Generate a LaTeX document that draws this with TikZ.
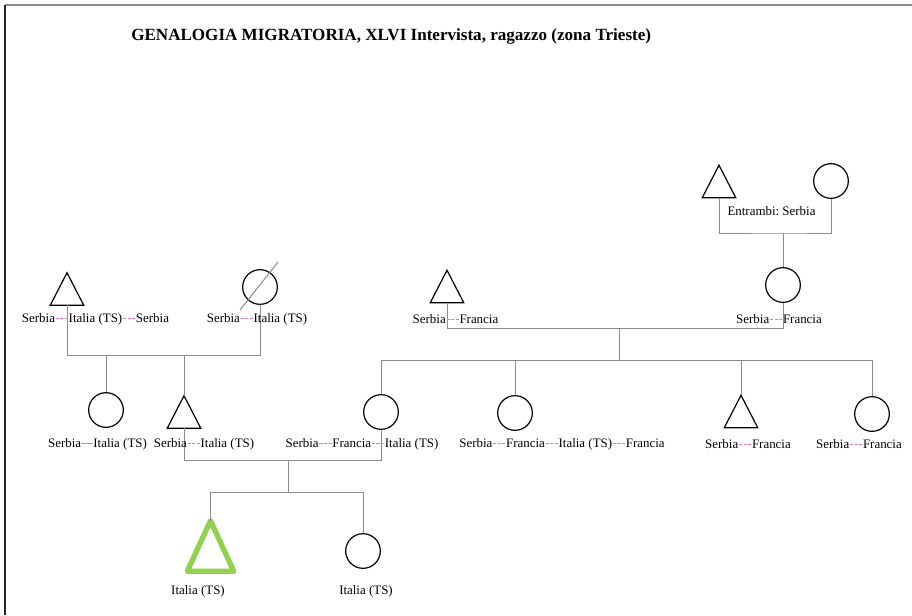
\documentclass[tikz,border=0pt]{standalone}
\usepackage{fontspec}
\setmainfont{Liberation Serif}
\frenchspacing
\definecolor{sepc}{RGB}{222,120,200}
\definecolor{linec}{RGB}{140,140,140}
\definecolor{greenc}{RGB}{146,208,80}
\newcommand\ddash{\rule[0.27em]{2.3pt}{0.75pt}}
\newcommand\dd{\textcolor{sepc}{\kern0.6pt\ddash\kern1.1pt\ddash\kern1.1pt\ddash\kern0.6pt}}
\newcommand\sol{\textcolor{sepc}{\rule[0.27em]{0.95em}{0.6pt}}}
\begin{document}
\begin{tikzpicture}[x=0.75pt,y=-0.75pt,
  conn/.style={draw=linec,line width=0.75pt},
  fem/.style={circle,draw=black,line width=0.9pt,minimum size=26pt,inner sep=0pt},
  mal/.style={rectangle,inner sep=0pt,minimum width=24.75pt,minimum height=24pt},
  tridraw/.style={draw=black,line width=0.9pt},
  lab/.style={inner sep=0pt,font=\fontsize{9.7}{11}\selectfont},
  ttl/.style={inner sep=0pt,anchor=west,font=\fontsize{12.8}{15}\selectfont\bfseries}]
\useasboundingbox (0,0) rectangle (912,615);
\draw[linec,line width=1.1pt] (5,5) -- (912,5);
\draw[black!85,line width=1.1pt] (5,5) -- (5,615);
\node[ttl] (title) at (131,36) {GENALOGIA MIGRATORIA, XLVI Intervista, ragazzo (zona Trieste)};
% generation 0 (right)
\node[mal] (ggf) at (719,181.5) {};
\node[fem] (ggm) at (831,181) {};
\coordinate (mgg) at (783,233);
% generation 1
\node[mal] (gfL) at (67,289) {};
\node[fem] (gmL) at (260,287) {};
\coordinate (mL) at (161,355);
\node[mal] (gfR) at (447,286.5) {};
\node[fem] (gmR) at (783,285) {};
\coordinate (mR) at (619,328);
\coordinate (sR) at (619,360);
% generation 2
\node[fem] (cL1) at (106,410) {};
\node[mal] (cL2) at (184,412) {};
\node[fem] (cM1) at (381,412) {};
\node[fem] (cM2) at (515,413) {};
\node[mal] (cM3) at (741,411.5) {};
\node[fem] (cM4) at (872,414) {};
\coordinate (mP) at (288,460);
\coordinate (sP) at (288,492);
% generation 3
\node[rectangle,inner sep=0pt,minimum width=34.5pt,minimum height=37.5pt] (ego) at (210.5,546) {};
\node[fem] (sis) at (363,551) {};
% triangles
\foreach \n in {ggf,gfL,gfR,cL2,cM3}
  \draw[tridraw] (\n.south west) -- (\n.north) -- (\n.south east) -- cycle;
\draw[greenc,line width=4pt,line join=round] (ego.south west) -- (ego.north) -- (ego.south east) -- cycle;
% strike on deceased
\draw[linec,line width=0.75pt] ([shift={(-20,23)}]gmL.center) -- ([shift={(18,-25)}]gmL.center);
% connectors
\draw[conn] (ggf.south) |- (mgg) -| (ggm.south);
\draw[conn] (mgg) -- (gmR.north);
\draw[conn] (gfL.south) |- (mL) -| (gmL.south);
\draw[conn] (cL1.north) -- (cL1.north |- mL);
\draw[conn] (cL2.north) -- (cL2.north |- mL);
\draw[conn] (gfR.south) |- (mR) -| (gmR.south);
\draw[conn] (mR) -- (sR);
\draw[conn] (cM1.north) |- (sR) -| (cM4.north);
\draw[conn] (cM2.north) -- (cM2.north |- sR);
\draw[conn] (cM3.north) -- (cM3.north |- sR);
\draw[conn] (cL2.south) |- (mP) -| (cM1.south);
\draw[conn] (mP) -- (sP);
\draw[conn] (ego.north) |- (sP) -| (sis.north);
% labels
\node[lab] (lggm) at (771.5,211) {Entrambi: Serbia};
\node[lab] (lgfL) at (95.5,319) {Serbia\dd Italia (TS)\dd Serbia};
\node[lab] (lgmL) at (257,319) {Serbia\dd Italia (TS)};
\node[lab] (lgfR) at (455.5,319) {Serbia\dd Francia};
\node[lab] (lgmR) at (779,319) {Serbia\dd Francia};
\node[lab] (lcL1) at (97.5,444) {Serbia\sol Italia (TS)};
\node[lab] (lcL2) at (204,444) {Serbia\dd Italia (TS)};
\node[lab] (lcM1) at (362,444) {Serbia\dd Francia\dd Italia (TS)};
\node[lab] (lcM2) at (562,444) {Serbia\dd Francia\dd Italia (TS)\dd Francia};
\node[lab] (lcM3) at (748,444) {Serbia\dd Francia};
\node[lab] (lcM4) at (859,444) {Serbia\dd Francia};
\node[lab] (lego) at (198,591) {Italia (TS)};
\node[lab] (lsis) at (366,591) {Italia (TS)};
\end{tikzpicture}
\end{document}
